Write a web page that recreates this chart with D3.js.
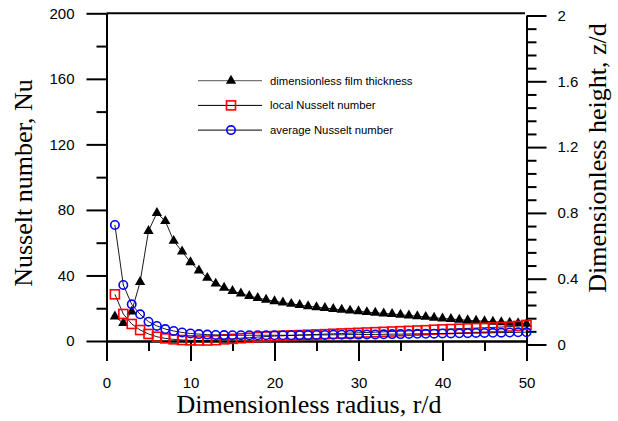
<!DOCTYPE html>
<html>
<head>
<meta charset="utf-8">
<script src="https://cdn.jsdelivr.net/npm/d3@7"></script>
<style>
  body { margin: 0; background: #fff; }
  .tick text { font-family: 'Liberation Sans', Arial, sans-serif; font-size: 15px; fill: #000; }
  .axis path, .axis line { stroke: #000; stroke-width: 2; }
  .title { font-family: 'Liberation Serif', 'Times New Roman', serif; font-size: 26px; fill: #000; }
  .legend text { font-family: 'Liberation Sans', Arial, sans-serif; font-size: 11.3px; fill: #000; }
</style>
</head>
<body>
<svg class="chart-svg" width="618" height="421"></svg>
<script>
// r/d positions
const radius = [1, 2, 3, 4, 5, 6, 7, 8, 9, 10, 11, 12, 13, 14, 15, 16, 17, 18, 19, 20,
  21, 22, 23, 24, 25, 26, 27, 28, 29, 30, 31, 32, 33, 34, 35, 36, 37, 38, 39, 40,
  41, 42, 43, 44, 45, 46, 47, 48, 49, 50]

// dimensionless film thickness z/d (right axis)
const filmThickness = [0.17, 0.13, 0.20, 0.38, 0.69, 0.80, 0.75, 0.63, 0.565, 0.50,
  0.45, 0.405, 0.37, 0.345, 0.325, 0.31, 0.295, 0.283, 0.272, 0.263,
  0.255, 0.247, 0.24, 0.233, 0.227, 0.222, 0.216, 0.211, 0.206, 0.202,
  0.197, 0.193, 0.189, 0.185, 0.181, 0.176, 0.172, 0.168, 0.163, 0.158,
  0.155, 0.151, 0.147, 0.144, 0.141, 0.138, 0.135, 0.132, 0.129, 0.126]

// local Nusselt number (left axis)
const localNu = [28.5, 16.5, 10.4, 6.7, 4.3, 2.6, 1.6, 1.0, 0.6, 0.4,
  0.3, 0.3, 0.5, 1.0, 1.3, 1.7, 2.0, 2.4, 2.7, 3.0,
  3.2, 3.4, 3.6, 3.8, 4.0, 4.2, 4.4, 4.6, 4.8, 5.0,
  5.2, 5.4, 5.6, 5.8, 6.0, 6.2, 6.4, 6.6, 6.9, 7.1,
  7.3, 7.5, 7.7, 7.9, 8.1, 8.3, 8.5, 8.8, 9.2, 9.8]

// average Nusselt number (left axis)
const averageNu = [70.8, 34.2, 22.4, 16.3, 11.8, 9.2, 7.3, 6.1, 5.2, 4.6,
  4.2, 3.9, 3.7, 3.6, 3.5, 3.5, 3.5, 3.5, 3.5, 3.5,
  3.5, 3.5, 3.6, 3.6, 3.7, 3.7, 3.8, 3.8, 3.9, 3.9,
  4.0, 4.0, 4.1, 4.2, 4.2, 4.3, 4.4, 4.4, 4.5, 4.6,
  4.6, 4.7, 4.8, 4.9, 4.9, 5.0, 5.1, 5.2, 5.3, 5.4]

const xTicks = [0, 10, 20, 30, 40, 50]
const xMinorTicks = [5, 15, 25, 35, 45]
const leftTicks = [0, 40, 80, 120, 160, 200]
const leftMinorTicks = [20, 60, 100, 140, 180]
const rightTicks = [0, 0.4, 0.8, 1.2, 1.6, 2]

const legendLabels = ['dimensionless film thickness', 'local Nusselt number', 'average Nusselt number']

const svg = d3.select('.chart-svg')

const xScale = d3.scaleLinear().domain([0, 50]).range([106.5, 526.5])
const yLeft = d3.scaleLinear().domain([0, 200]).range([341, 13.3])
const yRight = d3.scaleLinear().domain([0, 2]).range([344.5, 15.5])

/**
 * Draws a major/minor tick pair of axes.
 */
function drawAxis (axisFn, scale, major, minor, transform, padding, format) {
  const g = svg.append('g').attr('class', 'axis').attr('transform', transform)
  g.append('g')
    .call(axisFn(scale).tickValues(minor).tickSize(10).tickSizeOuter(0).tickFormat(''))
  g.append('g')
    .call(axisFn(scale).tickValues(major).tickSize(20).tickSizeOuter(0)
      .tickPadding(padding).tickFormat(format))
  return g
}

const rightMinor = d3.range(0, 2.001, 0.08).filter(v => Math.abs(v / 0.4 - Math.round(v / 0.4)) > 0.01)

drawAxis(d3.axisBottom, xScale, xTicks, xMinorTicks, `translate(0,${yLeft(0)})`, 16, d3.format('d'))
drawAxis(d3.axisLeft, yLeft, leftTicks, leftMinorTicks, `translate(${xScale(0)},0)`, 12, d3.format('d'))
drawAxis(d3.axisRight, yRight, rightTicks, rightMinor, `translate(${xScale(50)},0)`, 11, d => String(+d.toFixed(1)))

// top frame line
svg.append('line')
  .attr('x1', xScale(0)).attr('x2', xScale(50) - 1.5)
  .attr('y1', yLeft(200)).attr('y2', yLeft(200))
  .attr('stroke', '#000').attr('stroke-width', 2)

/**
 * Draws one series: thin black line plus its markers.
 */
function drawSeries (values, yScale, marker) {
  const pts = radius.map((r, i) => [xScale(r), yScale(values[i])])
  svg.append('path')
    .attr('d', d3.line()(pts))
    .attr('fill', 'none').attr('stroke', '#000').attr('stroke-width', 0.9)
  const g = svg.append('g')
  pts.forEach(p => marker(g, p[0], p[1]))
}

function triangle (g, x, y) {
  g.append('path').attr('d', d3.symbol(d3.symbolTriangle, 46)())
    .attr('transform', `translate(${x},${y})`).attr('fill', '#000')
}
function square (g, x, y) {
  g.append('rect').attr('x', x - 4.5).attr('y', y - 4.5).attr('width', 9).attr('height', 9)
    .attr('fill', 'none').attr('stroke', '#f00').attr('stroke-width', 1.6)
}
function circle (g, x, y) {
  g.append('circle').attr('cx', x).attr('cy', y).attr('r', 4.2)
    .attr('fill', 'none').attr('stroke', '#00f').attr('stroke-width', 1.6)
}

drawSeries(filmThickness, yRight, triangle)
drawSeries(localNu, yLeft, square)
drawSeries(averageNu, yLeft, circle)

// legend
const markers = [triangle, square, circle]
const legend = svg.append('g').attr('class', 'legend')
legendLabels.forEach((label, i) => {
  const y = 80.7 + i * 24.7
  legend.append('line').attr('x1', 198).attr('x2', 262).attr('y1', y).attr('y2', y)
    .attr('stroke', i === 0 ? '#555' : '#000').attr('stroke-width', 1)
  markers[i](legend, 231, y)
  legend.append('text').attr('x', 270).attr('y', y).attr('dy', '0.35em').text(label)
})

// axis titles
svg.append('text').attr('class', 'title')
  .attr('transform', 'translate(32,183) rotate(-90)')
  .attr('text-anchor', 'middle').text('Nusselt number, Nu')
svg.append('text').attr('class', 'title')
  .attr('transform', 'translate(606,158) rotate(-90)')
  .attr('text-anchor', 'middle').text('Dimensionless height, z/d')
svg.append('text').attr('class', 'title')
  .attr('x', 309).attr('y', 413)
  .attr('text-anchor', 'middle').text('Dimensionless radius, r/d')
</script>
</body>
</html>
